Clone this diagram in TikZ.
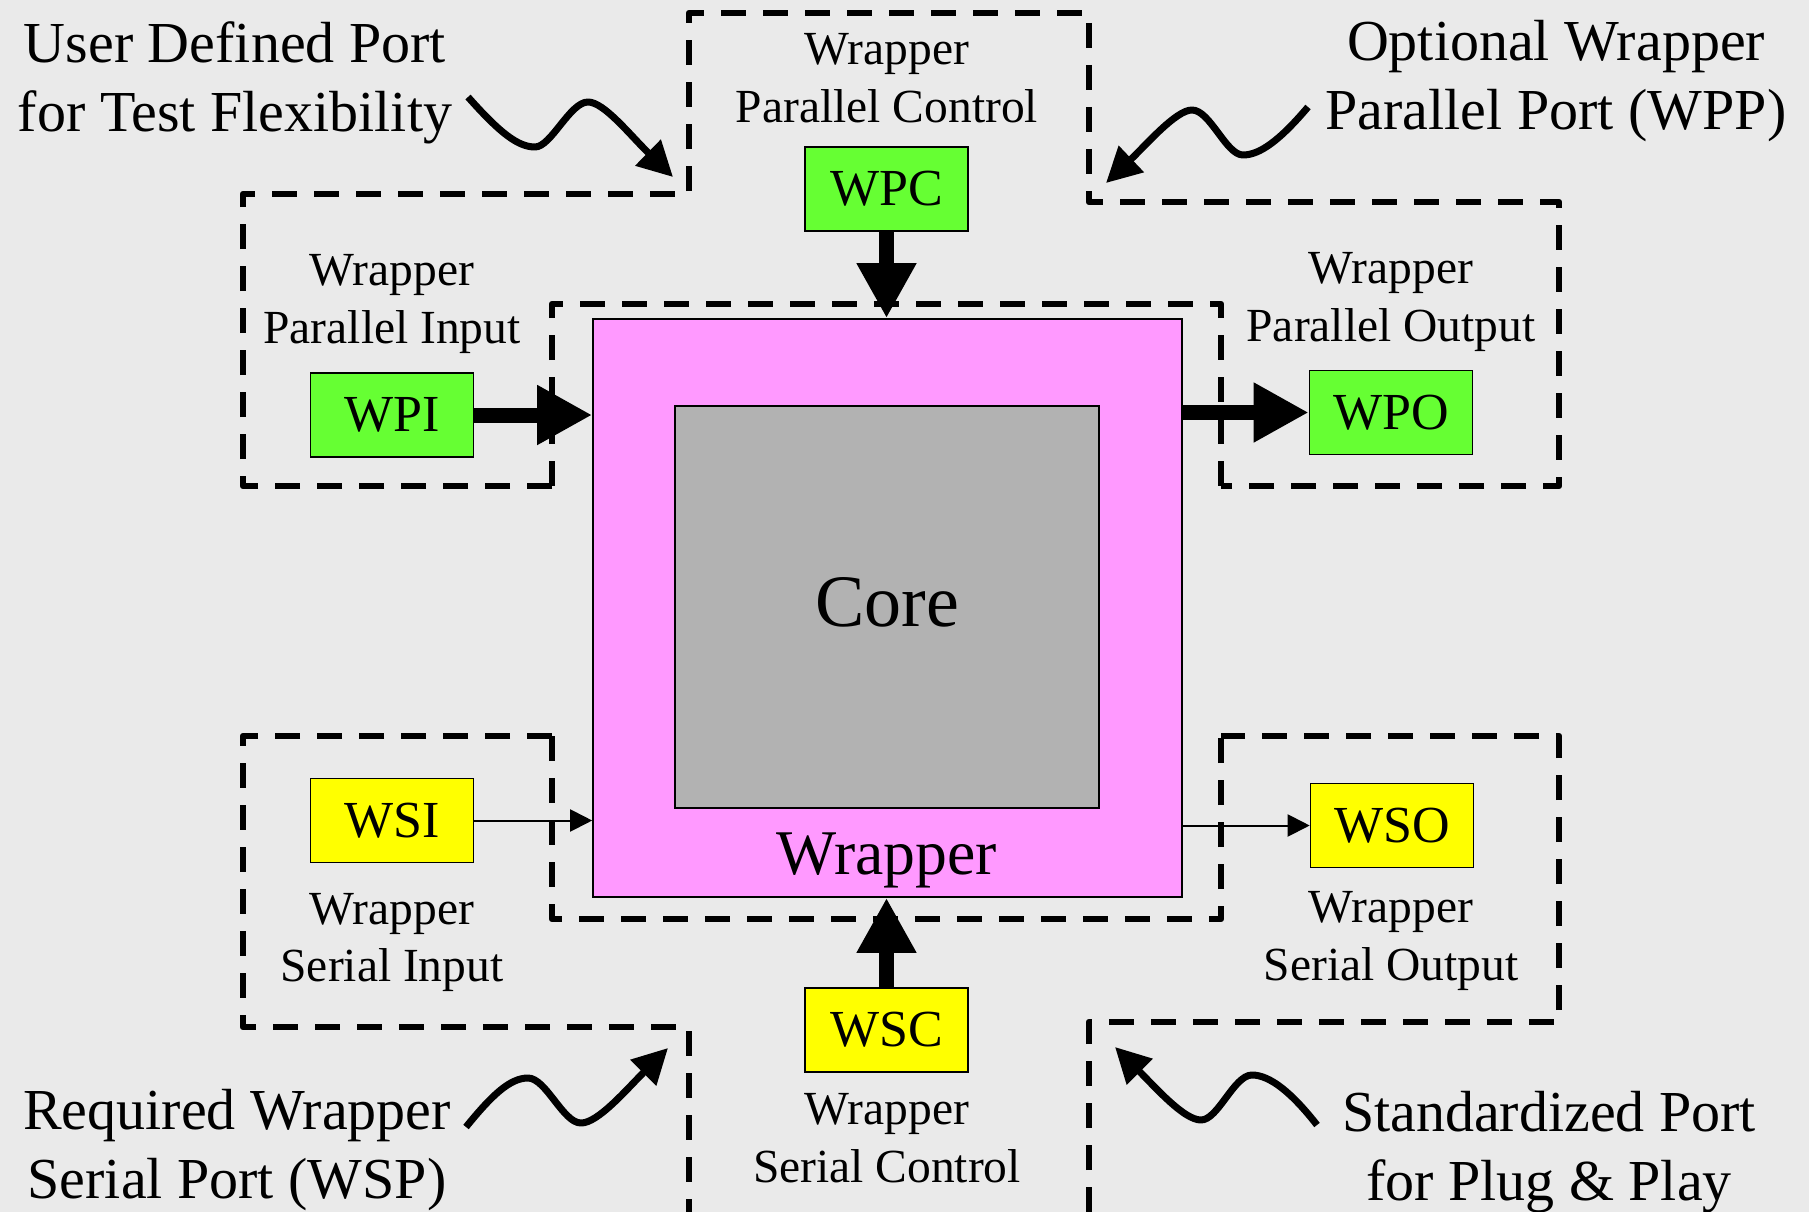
\documentclass[tikz,border=0pt]{standalone}
\usepackage{fontspec}
\setmainfont{Liberation Serif}
\usetikzlibrary{arrows.meta}
\definecolor{bgc}{RGB}{234,234,234}
\definecolor{wrapc}{RGB}{255,153,255}
\definecolor{corec}{RGB}{178,178,178}
\definecolor{greenc}{RGB}{102,255,51}
\definecolor{yellowc}{RGB}{255,255,0}
\begin{document}
\begin{tikzpicture}[x=1pt,y=-1pt,
  dashline/.style={line width=6.5pt,line join=round,dash pattern=on 25pt off 17pt},
  portbox/.style={draw=black,line width=1.6pt,minimum width=163pt,minimum height=84pt,inner sep=0pt,font=\fontsize{52}{60}\selectfont},
  par/.style={portbox,fill=greenc},
  ser/.style={portbox,fill=yellowc},
  lbl/.style={align=center,inner sep=0pt,font=\fontsize{47.5}{57.5}\selectfont},
  note/.style={align=center,inner sep=0pt,font=\fontsize{58}{69}\selectfont},
  bigarrow/.style={line width=15pt,-{Triangle[length=55pt,width=56pt]}},
  thinarrow/.style={line width=2pt,-{Triangle[length=22pt,width=22pt]}},
  wavy/.style={line width=7pt,line join=round,-{Triangle[length=35pt,width=35pt]}}
]
\useasboundingbox (0,0) rectangle (1809,1212);
\fill[bgc] (0,0) rectangle (1809,1212);

% dashed outlines
\draw[dashline] (552,486) -- (243,486) -- (243,194) -- (689,194) -- (689,13) -- (1089,13) -- (1089,202) -- (1559,202) -- (1559,486) -- (1221,486);
\draw[dashline] (552,486) -- (552,304) -- (1221,304) -- (1221,486);
\draw[dashline] (552,736) -- (552,919) -- (1221,919) -- (1221,736);
\draw[dashline] (552,736) -- (243,736) -- (243,1027) -- (689,1027) -- (689,1212);
\draw[dashline] (1089,1212) -- (1089,1022) -- (1559,1022) -- (1559,736) -- (1221,736);

% wrapper and core
\node[draw=black,line width=1.6pt,fill=wrapc,minimum width=589pt,minimum height=578pt,inner sep=0pt] (wrap) at (887.5,608) {};
\node[draw=black,line width=1.6pt,fill=corec,minimum width=424pt,minimum height=402pt,inner sep=0pt] (core) at (887,607) {};
\node[inner sep=0pt,font=\fontsize{74}{80}\selectfont] (corelabel) at (887,602) {Core};
\node[inner sep=0pt,font=\fontsize{63.7}{70}\selectfont] (wraplabel) at (887,860) {Wrapper};

% ports
\node[par] (wpc) at (886.5,189) {WPC};
\node[par] (wpi) at (392,415) {WPI};
\node[par] (wpo) at (1391,412.5) {WPO};
\node[ser] (wsi) at (392,820.5) {WSI};
\node[ser] (wso) at (1392,825.5) {WSO};
\node[ser] (wsc) at (886.5,1030) {WSC};

% port labels
\node[lbl] (lwpc) at (887,78) {Wrapper\\Parallel Control};
\node[lbl] (lwpi) at (392,304) {Wrapper\\Parallel Input};
\node[lbl] (lwpo) at (1391,302) {Wrapper\\Parallel Output};
\node[lbl] (lwsi) at (392,942.5) {Wrapper\\Serial Input};
\node[lbl] (lwso) at (1391,941) {Wrapper\\Serial Output};
\node[lbl] (lwsc) at (887,1138) {Wrapper\\Serial Control};

% connectors
\draw[bigarrow] (wpc.south) -- (wpc.south |- wrap.north);
\draw[bigarrow] (wpi.east) -- (wpi.east -| wrap.west);
\draw[bigarrow] (wrap.east |- wpo.west) -- (wpo.west);
\draw[bigarrow] (wsc.north) -- (wsc.north |- wrap.south);
\draw[thinarrow] (wsi.east) -- (wsi.east -| wrap.west);
\draw[thinarrow] (wrap.east |- wso.west) -- (wso.west);

% corner notes
\node[note] (n1) at (235,83) {User Defined Port\\for Test Flexibility};
\node[note] (n2) at (1556,81) {Optional Wrapper\\Parallel Port (WPP)};
\node[note] (n3) at (237,1150) {Required Wrapper\\Serial Port (WSP)};
\node[note] (n4) at (1549,1152) {Standardized Port\\for Plug \& Play};

\coordinate (s1) at (468,97);   \coordinate (e1) at (673,177);
\coordinate (s2) at (1308,107); \coordinate (e2) at (1106,183);
\coordinate (s3) at (466,1127); \coordinate (e3) at (668,1048);
\coordinate (s4) at (1317,1125);\coordinate (e4) at (1115,1047);

\draw[wavy] (s1) .. controls (500,133) and (518,147) .. (535,147)
  .. controls (551,147) and (570,102) .. (588,102)
  .. controls (604,102) and (630,135) .. (e1);
\draw[wavy] (s2) .. controls (1280,140) and (1260,155) .. (1243,155)
  .. controls (1226,155) and (1210,110) .. (1192,110)
  .. controls (1176,110) and (1146,145) .. (e2);
\draw[wavy] (s3) .. controls (492,1095) and (510,1078) .. (528,1078)
  .. controls (546,1078) and (563,1123) .. (581,1123)
  .. controls (598,1123) and (626,1090) .. (e3);
\draw[wavy] (s4) .. controls (1292,1093) and (1270,1075) .. (1252,1075)
  .. controls (1234,1075) and (1218,1120) .. (1201,1120)
  .. controls (1184,1120) and (1156,1088) .. (e4);
\end{tikzpicture}
\end{document}
